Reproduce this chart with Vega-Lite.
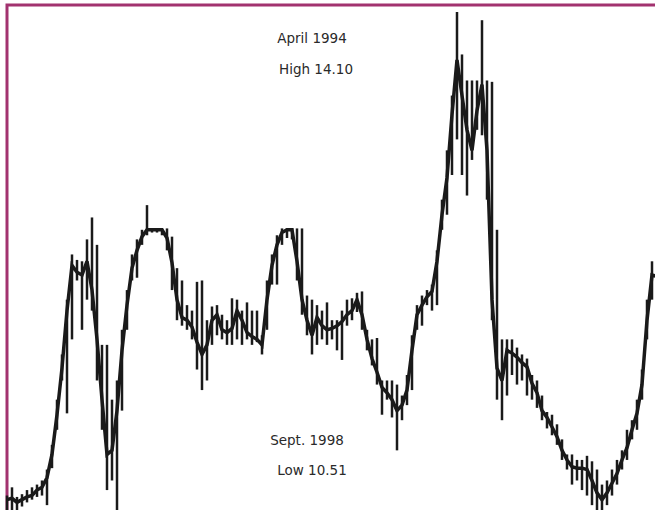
{
  "$schema": "https://vega.github.io/schema/vega-lite/v6.json",
  "width": 655,
  "height": 510,
  "autosize": {"type": "none"},
  "padding": {"left": 7, "top": 5, "right": 0, "bottom": 0},
  "background": "white",
  "config": {"view": {"stroke": "#a2326f", "strokeWidth": 3}},
  "data": {"values": [
    {"t":0,"c":10.54,"h":10.57,"l":10.46},{"t":1,"c":10.55,"h":10.63,"l":10.46},{"t":2,"c":10.52,"h":10.56,"l":10.46},{"t":3,"c":10.54,"h":10.58,"l":10.49},
    {"t":4,"c":10.56,"h":10.61,"l":10.52},{"t":5,"c":10.57,"h":10.63,"l":10.54},{"t":6,"c":10.61,"h":10.65,"l":10.56},{"t":7,"c":10.63,"h":10.68,"l":10.57},
    {"t":8,"c":10.70,"h":10.76,"l":10.50},{"t":9,"c":10.87,"h":10.94,"l":10.77},{"t":10,"c":11.16,"h":11.27,"l":11.05},{"t":11,"c":11.50,"h":11.60,"l":11.41},
    {"t":12,"c":11.92,"h":12.00,"l":11.17},{"t":13,"c":12.25,"h":12.33,"l":11.71},{"t":14,"c":12.20,"h":12.29,"l":12.14},{"t":15,"c":12.18,"h":12.28,"l":11.78},
    {"t":16,"c":12.28,"h":12.44,"l":12.00},{"t":17,"c":12.07,"h":12.60,"l":11.92},{"t":18,"c":11.71,"h":12.40,"l":11.41},{"t":19,"c":11.27,"h":11.67,"l":11.05},
    {"t":20,"c":10.87,"h":11.67,"l":10.61},{"t":21,"c":10.90,"h":11.27,"l":10.68},{"t":22,"c":11.19,"h":11.41,"l":10.46},{"t":23,"c":11.63,"h":11.78,"l":11.19},
    {"t":24,"c":11.96,"h":12.07,"l":11.78},{"t":25,"c":12.23,"h":12.33,"l":12.14},{"t":26,"c":12.36,"h":12.44,"l":12.16},{"t":27,"c":12.46,"h":12.51,"l":12.40},
    {"t":28,"c":12.51,"h":12.69,"l":12.47},{"t":29,"c":12.51,"h":12.52,"l":12.49},{"t":30,"c":12.51,"h":12.52,"l":12.49},{"t":31,"c":12.51,"h":12.52,"l":12.47},
    {"t":32,"c":12.45,"h":12.52,"l":12.36},{"t":33,"c":12.27,"h":12.46,"l":12.07},{"t":34,"c":12.00,"h":12.23,"l":11.85},{"t":35,"c":11.87,"h":12.14,"l":11.81},
    {"t":36,"c":11.85,"h":11.96,"l":11.78},{"t":37,"c":11.80,"h":11.92,"l":11.71},{"t":38,"c":11.69,"h":12.13,"l":11.49},{"t":39,"c":11.60,"h":12.14,"l":11.34},
    {"t":40,"c":11.67,"h":11.85,"l":11.41},{"t":41,"c":11.85,"h":11.95,"l":11.67},{"t":42,"c":11.89,"h":11.96,"l":11.74},{"t":43,"c":11.78,"h":11.89,"l":11.71},
    {"t":44,"c":11.76,"h":11.85,"l":11.67},{"t":45,"c":11.79,"h":12.01,"l":11.67},{"t":46,"c":11.92,"h":12.00,"l":11.71},{"t":47,"c":11.85,"h":11.92,"l":11.67},
    {"t":48,"c":11.76,"h":11.98,"l":11.71},{"t":49,"c":11.73,"h":11.92,"l":11.67},{"t":50,"c":11.71,"h":11.92,"l":11.69},{"t":51,"c":11.67,"h":11.74,"l":11.60},
    {"t":52,"c":12.00,"h":12.14,"l":11.78},{"t":53,"c":12.25,"h":12.33,"l":12.11},{"t":54,"c":12.40,"h":12.47,"l":12.11},{"t":55,"c":12.49,"h":12.52,"l":12.40},
    {"t":56,"c":12.51,"h":12.52,"l":12.45},{"t":57,"c":12.51,"h":12.52,"l":12.44},{"t":58,"c":12.28,"h":12.52,"l":12.14},{"t":59,"c":12.00,"h":12.52,"l":11.89},
    {"t":60,"c":11.85,"h":12.03,"l":11.74},{"t":61,"c":11.74,"h":12.00,"l":11.60},{"t":62,"c":11.87,"h":11.96,"l":11.67},{"t":63,"c":11.81,"h":11.92,"l":11.71},
    {"t":64,"c":11.78,"h":11.98,"l":11.67},{"t":65,"c":11.79,"h":11.85,"l":11.71},{"t":66,"c":11.81,"h":11.85,"l":11.63},{"t":67,"c":11.84,"h":11.92,"l":11.56},
    {"t":68,"c":11.89,"h":12.00,"l":11.81},{"t":69,"c":11.92,"h":12.01,"l":11.85},{"t":70,"c":12.00,"h":12.05,"l":11.91},{"t":71,"c":11.89,"h":12.06,"l":11.78},
    {"t":72,"c":11.71,"h":11.78,"l":11.63},{"t":73,"c":11.57,"h":11.71,"l":11.52},{"t":74,"c":11.47,"h":11.72,"l":11.38},{"t":75,"c":11.36,"h":11.41,"l":11.16},
    {"t":76,"c":11.32,"h":11.41,"l":11.27},{"t":77,"c":11.27,"h":11.41,"l":11.14},{"t":78,"c":11.19,"h":11.38,"l":10.90},{"t":79,"c":11.23,"h":11.30,"l":11.12},
    {"t":80,"c":11.34,"h":11.45,"l":11.23},{"t":81,"c":11.63,"h":11.74,"l":11.34},{"t":82,"c":11.89,"h":11.96,"l":11.78},{"t":83,"c":11.96,"h":12.03,"l":11.81},
    {"t":84,"c":12.02,"h":12.07,"l":11.96},{"t":85,"c":12.06,"h":12.11,"l":11.92},{"t":86,"c":12.28,"h":12.36,"l":11.96},{"t":87,"c":12.62,"h":12.73,"l":12.51},
    {"t":88,"c":12.89,"h":13.09,"l":12.62},{"t":89,"c":13.35,"h":13.49,"l":12.91},{"t":90,"c":13.75,"h":14.10,"l":13.17},{"t":91,"c":13.49,"h":13.79,"l":12.91},
    {"t":92,"c":13.24,"h":13.60,"l":12.76},{"t":93,"c":13.09,"h":13.60,"l":13.02},{"t":94,"c":13.38,"h":13.60,"l":13.24},{"t":95,"c":13.57,"h":14.04,"l":13.20},
    {"t":96,"c":13.09,"h":13.60,"l":12.73},{"t":97,"c":12.00,"h":13.59,"l":11.85},{"t":98,"c":11.50,"h":12.51,"l":11.27},{"t":99,"c":11.41,"h":11.71,"l":11.12},
    {"t":100,"c":11.63,"h":11.71,"l":11.30},{"t":101,"c":11.61,"h":11.71,"l":11.45},{"t":102,"c":11.58,"h":11.65,"l":11.38},{"t":103,"c":11.54,"h":11.60,"l":11.41},
    {"t":104,"c":11.51,"h":11.57,"l":11.30},{"t":105,"c":11.39,"h":11.45,"l":11.27},{"t":106,"c":11.32,"h":11.41,"l":11.21},{"t":107,"c":11.19,"h":11.30,"l":11.12},
    {"t":108,"c":11.14,"h":11.18,"l":11.06},{"t":109,"c":11.07,"h":11.16,"l":11.01},{"t":110,"c":11.00,"h":11.09,"l":10.94},{"t":111,"c":10.90,"h":10.98,"l":10.83},
    {"t":112,"c":10.83,"h":10.87,"l":10.76},{"t":113,"c":10.78,"h":10.87,"l":10.65},{"t":114,"c":10.77,"h":10.83,"l":10.68},{"t":115,"c":10.77,"h":10.83,"l":10.61},
    {"t":116,"c":10.76,"h":10.86,"l":10.57},{"t":117,"c":10.68,"h":10.82,"l":10.50},{"t":118,"c":10.59,"h":10.76,"l":10.46},{"t":119,"c":10.54,"h":10.65,"l":10.46},
    {"t":120,"c":10.59,"h":10.68,"l":10.50},{"t":121,"c":10.66,"h":10.76,"l":10.57},{"t":122,"c":10.73,"h":10.83,"l":10.65},{"t":123,"c":10.83,"h":10.90,"l":10.76},
    {"t":124,"c":10.92,"h":11.05,"l":10.83},{"t":125,"c":11.05,"h":11.12,"l":10.98},{"t":126,"c":11.17,"h":11.27,"l":11.05},{"t":127,"c":11.38,"h":11.49,"l":11.27},
    {"t":128,"c":11.85,"h":12.00,"l":11.71},{"t":129,"c":12.18,"h":12.28,"l":12.00},{"t":130,"c":12.17,"h":12.25,"l":12.07}
  ]},
  "encoding": {
    "x": {"field": "t", "type": "quantitative", "scale": {"domain": [0, 131], "nice": false, "zero": false}, "axis": null}
  },
  "layer": [
    {
      "mark": {"type": "rule", "color": "#1a1a1a", "strokeWidth": 2.5},
      "encoding": {
        "y": {"field": "l", "type": "quantitative", "scale": {"domain": [10.428, 14.151], "nice": false, "zero": false}, "axis": null},
        "y2": {"field": "h"}
      }
    },
    {
      "mark": {"type": "line", "color": "#1a1a1a", "strokeWidth": 3.5, "strokeJoin": "miter", "strokeMiterLimit": 3},
      "encoding": {
        "y": {"field": "c", "type": "quantitative", "scale": {"domain": [10.428, 14.151], "nice": false, "zero": false}, "axis": null}
      }
    },
    {
      "data": {"values": [
        {"t": 61.0, "v": 13.90, "label": "April 1994"},
        {"t": 61.8, "v": 13.68, "label": "High 14.10"},
        {"t": 60.0, "v": 10.97, "label": "Sept. 1998"},
        {"t": 61.0, "v": 10.75, "label": "Low 10.51"}
      ]},
      "mark": {"type": "text", "align": "center", "baseline": "middle", "font": "DejaVu Sans", "fontSize": 13.5, "color": "#2a2a2a"},
      "encoding": {
        "x": {"field": "t", "type": "quantitative"},
        "y": {"field": "v", "type": "quantitative", "scale": {"domain": [10.428, 14.151], "nice": false, "zero": false}, "axis": null},
        "text": {"field": "label"}
      }
    }
  ]
}
